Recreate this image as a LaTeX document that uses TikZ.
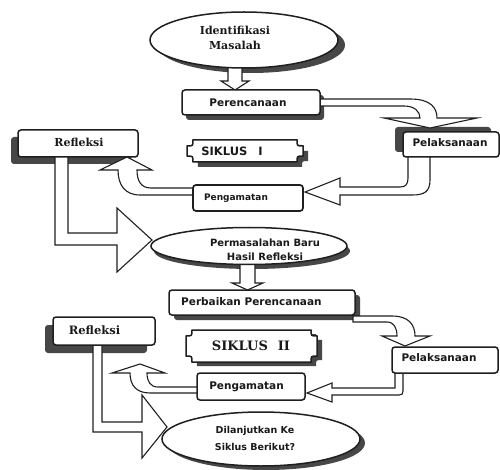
\documentclass[tikz,border=0pt]{standalone}
\usepackage{fontspec}
\setmainfont{DejaVu Serif}
\newfontfamily\sansfam{DejaVu Sans}
\usetikzlibrary{calc,shapes.geometric}
\newcommand{\plaqueshape}[5]{%
  \path[#5] (#1+6,#2) -- (#3-6,#2) .. controls (#3-6,#2+6) .. (#3,#2+6)
    -- (#3,#4-6) .. controls (#3-6,#4-6) .. (#3-6,#4)
    -- (#1+6,#4) .. controls (#1+6,#4-6) .. (#1,#4-6)
    -- (#1,#2+6) .. controls (#1+6,#2+6) .. (#1+6,#2) -- cycle;}
\tikzset{
  shad/.style={fill=black!72, draw=none},
  bx/.style={draw=black!88, line width=1.5pt, rounded corners=3pt, fill=white, inner sep=0pt},
  sftext/.style={font=\sansfam\bfseries\fontsize{#1}{#1}\selectfont, text=black!90, inner sep=0pt},
  rmtext/.style={font=\bfseries\fontsize{#1}{#1}\selectfont, text=black!90, inner sep=0pt},
  blockarrow/.style={draw=black!88, line width=1.1pt, fill=white, line join=miter, miter limit=20},
  ell/.style={ellipse, draw=black!88, line width=1.5pt, fill=white, inner sep=0pt},
  plaq/.style={draw=black!88, line width=1.5pt, fill=white},
}
\begin{document}
\begin{tikzpicture}[x=1pt,y=-1pt]
\useasboundingbox[fill=white] (0,0) rectangle (500,470);

% ---------- shadows ----------
\fill[shad] (251,45) ellipse [x radius=94pt, y radius=28pt];
\fill[shad, rounded corners=3pt] (186,95) rectangle (324,120);
\fill[shad, rounded corners=3pt] (395,127) rectangle (491,152);
\plaqueshape{192}{145}{308}{167}{shad}
\fill[shad, rounded corners=3pt] (11,137) rectangle (131,164);
\fill[shad] (252,251) ellipse [x radius=98pt, y radius=18pt];
\fill[shad, rounded corners=3pt] (174,295) rectangle (360,320);
\plaqueshape{191}{334}{322}{366}{shad}
\fill[shad, rounded corners=3pt] (45,325) rectangle (147,353);
\fill[shad] (266,443) ellipse [x radius=99pt, y radius=27pt];

% ---------- block arrows ----------
% Identifikasi -> Perencanaan
\draw[blockarrow] (228,60) -- (228,81) -- (221,81) -- (235,90) -- (249,81) -- (242,81) -- (242,60) -- cycle;
% Perencanaan -> Pelaksanaan I
\draw[blockarrow] (318,99) -- (410,99) .. controls (431,99) and (437,108) .. (437,118)
  -- (477,118) -- (430,128) -- (384,118) -- (420,118)
  .. controls (420,111) and (414,106) .. (404,106) -- (318,106) -- cycle;
% Pelaksanaan I -> Pengamatan I
\draw[blockarrow] (430,156) -- (430,180) .. controls (430,192) and (424,195) .. (412,195)
  -- (340,195) -- (340,205) -- (305,192) -- (340,178) -- (340,187) -- (400,187)
  .. controls (406,187) and (408,184) .. (408,178) -- (408,156) -- cycle;
% Pengamatan I -> Refleksi I
\draw[blockarrow] (195,195) -- (140,195) .. controls (125,195) and (118,185) .. (118,170)
  -- (100,170) -- (127,157) -- (152,170) -- (137,170)
  .. controls (137,181) and (141,188) .. (151,188) -- (195,188) -- cycle;
% Refleksi I -> Permasalahan
\draw[blockarrow] (55,156) -- (55,245) -- (117,245) -- (117,272) -- (152,240) -- (117,208)
  -- (117,233) -- (68,233) -- (68,156) -- cycle;
% Permasalahan -> Perbaikan
\draw[blockarrow] (240,258) -- (240,283) -- (232,283) -- (247.5,290) -- (263,283) -- (255,283) -- (255,258) -- cycle;
% Perbaikan -> Pelaksanaan II
\draw[blockarrow] (353,316) -- (392,316) .. controls (409,316) and (415,325) .. (415,336)
  -- (430,336) -- (405,346) -- (382,336) -- (397,336)
  .. controls (397,328) and (394,322) .. (387,322) -- (353,322) -- cycle;
% Pelaksanaan II -> Pengamatan II
\draw[blockarrow] (403,372) -- (403,391) .. controls (403,394) and (402,395) .. (399,395)
  -- (332,395) -- (332,402) -- (307,393) -- (332,383) -- (332,388) -- (395,388) -- (395,372) -- cycle;
% Pengamatan II -> Refleksi II
\draw[blockarrow] (199,393) -- (150,393) .. controls (136,393) and (130,385) .. (130,373)
  -- (112,373) -- (140,364) -- (165,373) -- (147,373)
  .. controls (147,381) and (150,387) .. (158,387) -- (199,387) -- cycle;
% Refleksi II -> Dilanjutkan
\draw[blockarrow] (93,344) -- (93,432) -- (142,432) -- (142,458) -- (167,427) -- (142,395)
  -- (142,422) -- (102,422) -- (102,344) -- cycle;

% ---------- shapes ----------
\node[ell, minimum width=188pt, minimum height=56pt] (ident) at (244,40) {};
\node[bx, minimum width=138pt, minimum height=25pt] (perenc) at (251,102.5) {};
\node[bx, minimum width=96pt, minimum height=25pt] (pel1) at (451,144.5) {};
\plaqueshape{187}{140}{303}{162}{plaq}
\node[bx, minimum width=110pt, minimum height=26pt, line width=1.7pt] (peng1) at (248,198) {};
\node[bx, minimum width=120pt, minimum height=27pt] (ref1) at (78,143.5) {};
\node[ell, minimum width=196pt, minimum height=37pt] (perm) at (249,246) {};
\node[bx, minimum width=186pt, minimum height=25pt] (perb) at (262,302.5) {};
\plaqueshape{186}{330}{317}{362}{plaq}
\node[bx, minimum width=106pt, minimum height=26pt] (pel2) at (445,360) {};
\node[bx, minimum width=108pt, minimum height=27pt] (peng2) at (251,386.5) {};
\node[bx, minimum width=102pt, minimum height=28pt] (ref2) at (104,331) {};
\node[ell, minimum width=198pt, minimum height=54pt] (dil) at (261,439) {};

% ---------- texts ----------
\node[font=\bfseries\fontsize{11}{15}\selectfont, align=center, inner sep=0pt, text=black!90] (identt) at (235,38) {Identifikasi\\Masalah};
\node[sftext=10.5] (perenct) at (248,103) {Perencanaan};
\node[sftext=10.5] (pel1t) at (450,143) {Pelaksanaan};
\node[sftext=11.5] (sik1t) at (232,151) {SIKLUS\hspace{11pt}I};
\node[sftext=9] (peng1t) at (236,198) {Pengamatan};
\node[rmtext=11] (ref1t) at (79,142) {Refleksi};
\node[font=\sansfam\bfseries\fontsize{10}{14}\selectfont, align=center, inner sep=0pt, text=black!90] (permt) at (265,250) {Permasalahan Baru\\Hasil Refleksi};
\node[sftext=10.5, anchor=west] (perbt) at (181,302) {Perbaikan Perencanaan};
\node[rmtext=13] (sik2t) at (251,346) {SIKLUS\hspace{10pt}II};
\node[sftext=10.5] (pel2t) at (439,358) {Pelaksanaan};
\node[sftext=10.5] (peng2t) at (246.5,387) {Pengamatan};
\node[rmtext=11.5] (ref2t) at (94.5,330) {Refleksi};
\node[font=\sansfam\bfseries\fontsize{9.5}{17}\selectfont, align=center, inner sep=0pt, text=black!90] (dilt) at (255,438) {Dilanjutkan Ke\\Siklus Berikut?};
\end{tikzpicture}
\end{document}
